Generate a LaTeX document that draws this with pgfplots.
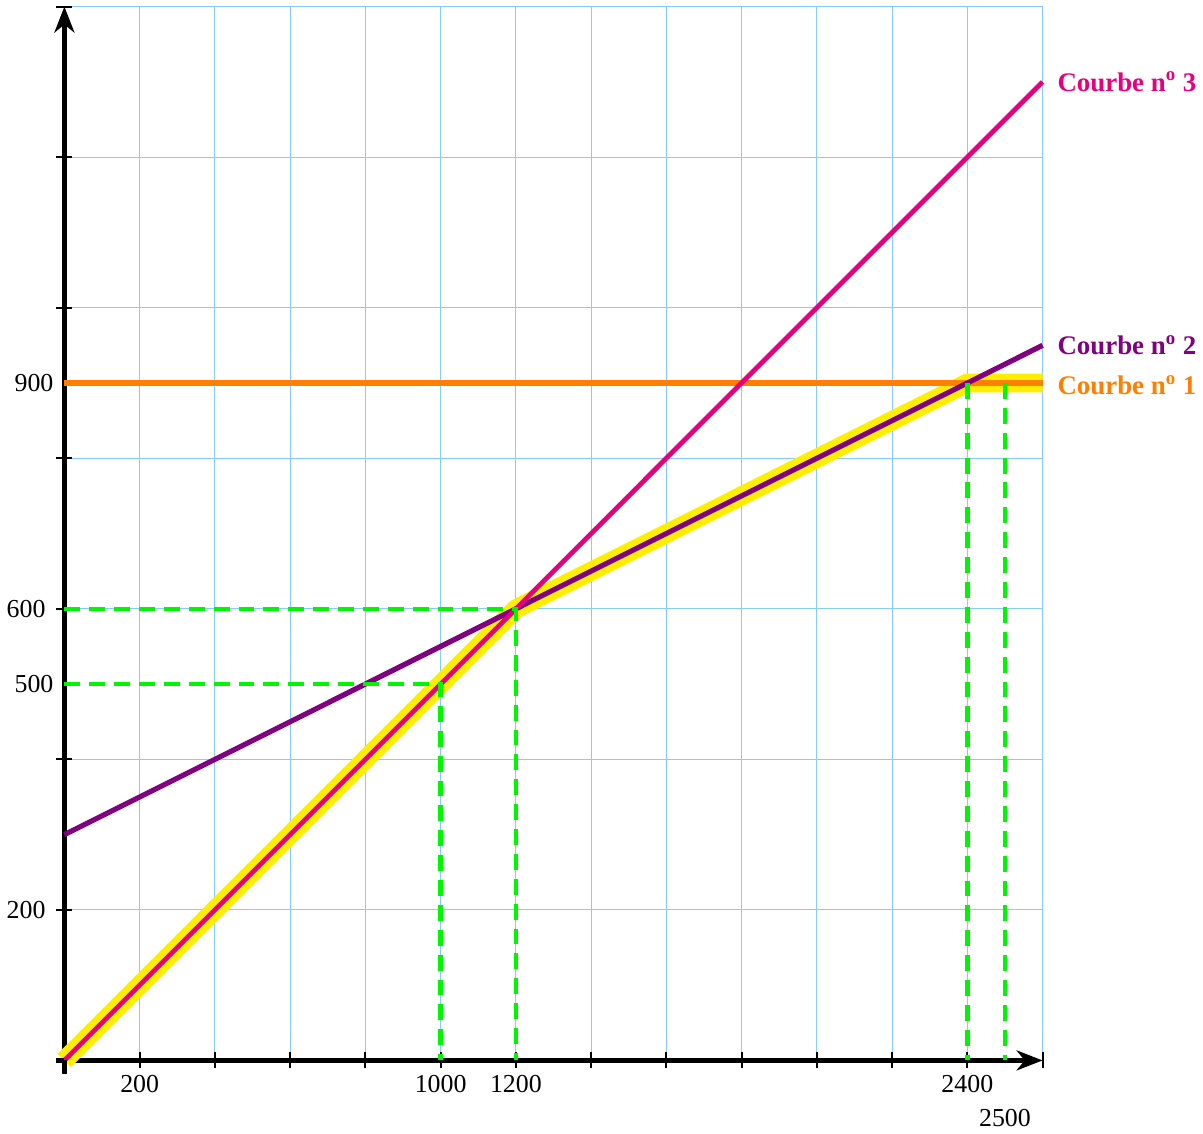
\documentclass[border=0pt]{standalone}
\usepackage{pgfplots}
\pgfplotsset{compat=1.18}
\usepackage{fontspec}
\setmainfont{Liberation Serif}
\usetikzlibrary{arrows.meta}
\definecolor{gridblue}{RGB}{135,206,245}
\definecolor{c3}{RGB}{231,0,126}
\definecolor{c2}{RGB}{128,0,128}
\definecolor{c1}{RGB}{255,128,0}
\definecolor{hl}{RGB}{255,238,0}
\definecolor{vert}{RGB}{0,245,0}

\begin{document}
\begin{tikzpicture}
\begin{axis}[
  width=491.5pt, height=529.5pt, scale only axis,
  xmin=0, xmax=2600, ymin=0, ymax=1400,
  axis lines=middle,
  axis line style={line width=2.8pt, -{Stealth[length=13pt,width=10pt,inset=4pt]}},
  clip=false,
  grid=major,
  major grid style={gridblue, line width=0.6pt},
  xtick={0,200,...,2600},
  xticklabels={,200,,,,1000,1200,,,,,,2400,},
  ytick={0,200,...,1400},
  yticklabels={,200,,600,,,,},
  extra y ticks={500,900},
  extra y tick labels={500,900},
  extra y tick style={grid=none, major tick length=0pt},
  major tick length=8pt,
  tick align=center,
  tick style={black, line width=1pt},
  ticklabel style={font=\fontsize{13}{15}\selectfont},
  /pgf/number format/assume math mode=true,
  yticklabel style={xshift=-2pt},
]
% highlighted minimum
\addplot[hl, line width=9.5pt, line join=round] coordinates {(0,0) (1200,600) (2400,900) (2600,900)};
% curves
\addplot[c1, line width=2.8pt] coordinates {(0,900) (2600,900)};
\addplot[c2, line width=2.6pt] coordinates {(0,300) (2600,950)};
\addplot[c3, line width=2.4pt] coordinates {(0,0) (2600,1300)};
% dashed reading lines
\addplot[vert, line width=2.2pt, dash pattern=on 8pt off 4.5pt] coordinates {(0,600) (1200,600) (1200,0)};
\addplot[vert, line width=2.2pt, dash pattern=on 8pt off 4.5pt] coordinates {(0,500) (1000,500) (1000,0)};
\addplot[vert, line width=2.2pt, dash pattern=on 8pt off 4.5pt] coordinates {(2400,900) (2400,0)};
\addplot[vert, line width=2.2pt, dash pattern=on 8pt off 4.5pt] coordinates {(2500,900) (2500,0)};
% axis stubs past the origin
\draw[black, line width=2.8pt] (axis cs:0,0) -- ++(0,-7pt);
\draw[black, line width=2.8pt] (axis cs:0,0) -- ++(-4pt,0);
\node[anchor=north, font=\fontsize{13}{15}\selectfont] at ([yshift=-21pt]axis cs:2500,0) {2500};
\node[anchor=west, font=\fontsize{13.5}{16}\selectfont\bfseries, text=c3] at ([xshift=4pt]axis cs:2600,1300) {Courbe n\textsuperscript{o} 3};
\node[anchor=west, font=\fontsize{13.5}{16}\selectfont\bfseries, text=c2] at ([xshift=4pt]axis cs:2600,950) {Courbe n\textsuperscript{o} 2};
\node[anchor=west, font=\fontsize{13.5}{16}\selectfont\bfseries, text=c1] at ([xshift=4pt,yshift=-1pt]axis cs:2600,900) {Courbe n\textsuperscript{o} 1};
\end{axis}
\end{tikzpicture}
\end{document}
